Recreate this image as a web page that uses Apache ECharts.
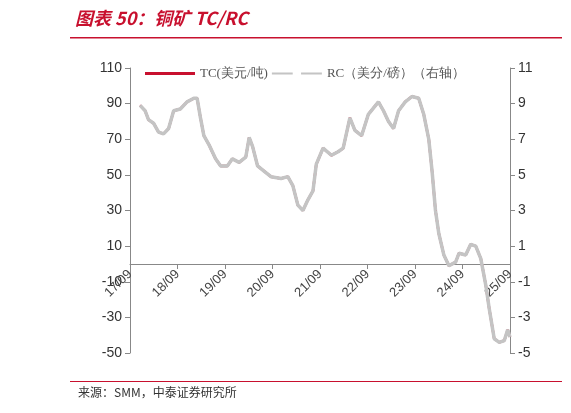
<!DOCTYPE html><html><head><meta charset="utf-8"><script src="https://cdn.jsdelivr.net/npm/echarts@6/dist/echarts.min.js"></script></head><body style="margin:0;background:#fff"><div id="c" style="width:571px;height:413px"></div><script>
const tickLabels=['17/09','18/09','19/09','20/09','21/09','22/09','23/09','24/09','25/09'];
const zx=[120,135,145,160,175,190,205,220,240,260,280,290,300,310,325,345,360,380,395,415,435,445,455,470,490,510,540,560,575,590,605,620,635,645,665,690,710,725,745,760,780,800,830,845,860,875,890,910,930,950,965,980,990,1000,1010,1025,1040,1060,1070,1090,1105,1120,1135,1150,1160,1175,1190,1205,1215,1222];
const times=zx.map(z=>+((z-90)/141.5).toFixed(3));
const tc=[89,86,81,79,74,73,76,86,87,91,93,93,82,72,67,59,55,55,59,57,60,71,66,55,52,49,48,49,44,33,30,36,41,56,65,61,63,65,82,75,72,84,91,86,80,76,86,91,94,93,84,70,52,30,17,5,-1,1,6,5,11,10,3,-12,-25,-42,-44,-43,-37,-41];
const rc=[8.9,8.6,8.1,7.9,7.4,7.3,7.6,8.6,8.7,9.1,9.3,9.3,8.2,7.2,6.7,5.9,5.5,5.5,5.9,5.7,6.0,7.1,6.6,5.5,5.2,4.9,4.8,4.9,4.4,3.3,3.0,3.6,4.1,5.6,6.5,6.1,6.3,6.5,8.2,7.5,7.2,8.4,9.1,8.6,8.0,7.6,8.6,9.1,9.4,9.3,8.4,7.0,5.2,3.0,1.7,0.5,-0.1,0.1,0.6,0.5,1.1,1.0,0.3,-1.2,-2.5,-4.2,-4.4,-4.3,-3.7,-4.1];
const ch=echarts.init(document.getElementById('c'));
const ax={color:'#333',fontSize:14,fontFamily:'Liberation Sans'};
ch.setOption({animation:false,
grid:{left:130,right:61,top:68,bottom:60},
legend:{left:140,top:62,itemGap:4,itemWidth:50,itemHeight:3,textStyle:{color:'#555',fontSize:13,fontFamily:'Liberation Serif'},
 data:[{name:'TC(美元/吨)',icon:'rect'},{name:'RC（美分/磅）（右轴）',icon:'path://M0,0H10V1H0Z M14,0H24V1H14Z'}]},
xAxis:{type:'value',min:0,max:8,interval:1,offset:-89,axisLine:{onZero:false,lineStyle:{color:'#888'}},axisTick:{show:true,lineStyle:{color:'#888'},length:5},splitLine:{show:false},
 axisLabel:{rotate:45,color:'#444',fontSize:13,fontFamily:'Liberation Sans',formatter:v=>tickLabels[v]}},
yAxis:[{type:'value',min:-50,max:110,interval:20,axisLine:{show:true,lineStyle:{color:'#888'}},axisTick:{show:true,lineStyle:{color:'#888'}},splitLine:{show:false},axisLabel:ax},
 {type:'value',min:-5,max:11,interval:2,position:'right',axisLine:{show:true,lineStyle:{color:'#888'}},axisTick:{show:true,lineStyle:{color:'#888'}},splitLine:{show:false},axisLabel:ax}],
series:[{name:'TC(美元/吨)',type:'line',showSymbol:false,data:times.map((t,i)=>[t,tc[i]]),lineStyle:{color:'#c8102e',width:2.5},itemStyle:{color:'#c8102e'}},
 {name:'RC（美分/磅）（右轴）',type:'line',yAxisIndex:1,showSymbol:false,data:times.map((t,i)=>[t,rc[i]]),lineStyle:{color:'#c4c4c4',width:3.5},itemStyle:{color:'#c4c4c4'}}],
graphic:[{type:'text',left:75,top:9,style:{text:'图表 50：铜矿 TC/RC',fill:'#c8102e',font:'italic bold 18px "Noto Sans CJK SC"'}},
 {type:'rect',shape:{x:70,y:37,width:492,height:1.5},style:{fill:'#c8102e'}},
 {type:'rect',shape:{x:70,y:381,width:492,height:1},style:{fill:'#c8102e'}},
 {type:'text',left:78,top:386,style:{text:'来源：SMM，中泰证券研究所',fill:'#333',font:'12px "Noto Sans CJK SC"'}}]
});
</script></body></html>
